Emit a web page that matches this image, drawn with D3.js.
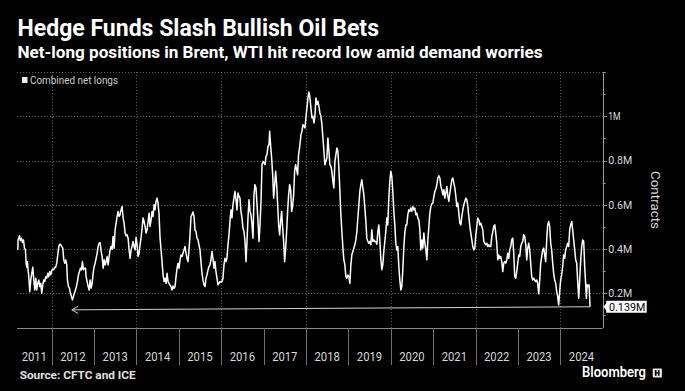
<!DOCTYPE html>
<html lang="en">
<head>
<meta charset="UTF-8">
<title>Hedge Funds Slash Bullish Oil Bets</title>
<script src="https://d3js.org/d3.v7.min.js"></script>
<style>
  body { margin: 0; background: #000; }
  svg { display: block; }
  text { font-family: "Liberation Sans Narrow", "Roboto", "Liberation Sans", sans-serif; }
</style>
</head>
<body>
<svg id="chart" width="685" height="391"></svg>
<script>
// Combined Brent + WTI net longs, millions of contracts. [decimal year, value]
const netLongs = [
  [2011.203,.396],[2011.210,.441],[2011.242,.460],[2011.265,.437],[2011.289,.449],[2011.313,.429],[2011.336,.441],[2011.360,.404],
  [2011.383,.396],[2011.399,.336],[2011.415,.318],[2011.430,.343],[2011.446,.306],[2011.462,.275],[2011.485,.207],[2011.509,.260],
  [2011.533,.290],[2011.556,.318],[2011.580,.260],[2011.603,.215],[2011.627,.268],[2011.650,.215],[2011.674,.245],[2011.698,.260],
  [2011.721,.230],[2011.745,.245],[2011.768,.200],[2011.792,.238],[2011.816,.260],[2011.839,.253],[2011.863,.275],[2011.886,.268],
  [2011.910,.290],[2011.933,.275],[2011.957,.298],[2011.981,.283],
  [2012.004,.303],[2012.028,.309],[2012.051,.306],[2012.075,.318],[2012.098,.318],[2012.122,.336],[2012.146,.374],[2012.169,.411],
  [2012.193,.422],[2012.216,.419],[2012.240,.411],[2012.263,.404],[2012.287,.351],[2012.311,.336],[2012.334,.351],[2012.358,.328],
  [2012.373,.260],[2012.397,.230],[2012.421,.223],[2012.444,.200],[2012.468,.185],[2012.491,.170],[2012.515,.185],[2012.538,.200],
  [2012.562,.215],[2012.586,.230],[2012.609,.253],[2012.633,.283],[2012.656,.298],[2012.680,.313],[2012.704,.306],[2012.727,.343],
  [2012.751,.306],[2012.774,.313],[2012.798,.313],[2012.813,.275],[2012.837,.253],[2012.861,.230],[2012.884,.215],[2012.908,.260],
  [2012.931,.223],[2012.955,.245],[2012.978,.290],
  [2013.002,.321],[2013.026,.336],[2013.049,.358],[2013.073,.381],[2013.096,.411],[2013.120,.426],[2013.143,.429],[2013.167,.389],
  [2013.191,.366],[2013.214,.313],[2013.238,.351],[2013.261,.328],[2013.285,.343],[2013.309,.366],[2013.332,.328],[2013.356,.366],
  [2013.379,.396],[2013.403,.411],[2013.426,.399],[2013.450,.457],[2013.473,.404],[2013.497,.487],[2013.521,.517],[2013.544,.547],
  [2013.568,.570],[2013.591,.547],[2013.615,.555],[2013.638,.577],[2013.662,.592],[2013.686,.540],[2013.709,.517],[2013.733,.472],
  [2013.756,.460],[2013.780,.464],[2013.804,.449],[2013.827,.396],[2013.851,.358],[2013.874,.396],[2013.898,.411],[2013.921,.434],
  [2013.945,.411],[2013.969,.396],[2013.992,.453],
  [2014.016,.419],[2014.039,.366],[2014.063,.381],[2014.086,.419],[2014.110,.453],[2014.134,.494],[2014.157,.540],[2014.181,.524],
  [2014.204,.502],[2014.228,.472],[2014.252,.487],[2014.275,.524],[2014.299,.562],[2014.322,.502],[2014.346,.532],[2014.369,.570],
  [2014.393,.547],[2014.417,.600],[2014.440,.577],[2014.464,.615],[2014.487,.630],[2014.511,.607],[2014.535,.555],[2014.558,.449],
  [2014.582,.396],[2014.605,.343],[2014.629,.283],[2014.653,.253],[2014.676,.268],[2014.700,.245],[2014.723,.290],[2014.747,.253],
  [2014.770,.245],[2014.794,.237],[2014.817,.230],[2014.841,.215],[2014.865,.233],[2014.888,.222],[2014.912,.230],[2014.935,.275],
  [2014.959,.313],[2014.983,.336],
  [2015.006,.313],[2015.030,.351],[2015.053,.373],[2015.077,.366],[2015.100,.381],[2015.124,.396],[2015.147,.411],[2015.171,.381],
  [2015.194,.358],[2015.218,.343],[2015.242,.396],[2015.265,.464],[2015.289,.547],[2015.312,.555],[2015.336,.567],[2015.360,.547],
  [2015.383,.487],[2015.407,.479],[2015.430,.449],[2015.454,.441],[2015.477,.419],[2015.501,.396],[2015.524,.343],[2015.548,.290],
  [2015.572,.260],[2015.595,.238],[2015.619,.230],[2015.642,.268],[2015.666,.283],[2015.690,.305],[2015.713,.321],[2015.737,.328],
  [2015.760,.351],[2015.784,.389],[2015.807,.358],[2015.831,.313],[2015.854,.343],[2015.878,.298],[2015.902,.268],[2015.925,.238],
  [2015.949,.245],[2015.972,.253],[2015.996,.250],
  [2016.020,.253],[2016.043,.268],[2016.067,.328],[2016.090,.358],[2016.114,.343],[2016.137,.358],[2016.161,.419],[2016.185,.464],
  [2016.208,.525],[2016.232,.577],[2016.255,.540],[2016.279,.600],[2016.302,.630],[2016.326,.660],[2016.350,.623],[2016.373,.577],
  [2016.397,.653],[2016.420,.638],[2016.444,.630],[2016.467,.570],[2016.491,.540],[2016.515,.494],[2016.538,.479],[2016.562,.434],
  [2016.585,.343],[2016.609,.434],[2016.632,.540],[2016.656,.623],[2016.680,.570],[2016.703,.555],[2016.727,.509],[2016.750,.449],
  [2016.774,.645],[2016.797,.691],[2016.821,.676],[2016.845,.600],[2016.868,.525],[2016.892,.434],[2016.915,.509],[2016.939,.615],
  [2016.962,.781],[2016.986,.796],
  [2017.009,.789],[2017.033,.781],[2017.057,.819],[2017.080,.827],[2017.104,.864],[2017.127,.872],[2017.143,.932],[2017.167,.864],
  [2017.190,.811],[2017.214,.736],[2017.237,.630],[2017.261,.691],[2017.285,.751],[2017.308,.691],[2017.332,.600],[2017.355,.509],
  [2017.379,.464],[2017.402,.525],[2017.426,.570],[2017.450,.494],[2017.473,.434],[2017.497,.343],[2017.520,.404],[2017.544,.479],
  [2017.567,.570],[2017.591,.645],[2017.615,.691],[2017.638,.668],[2017.662,.570],[2017.685,.593],[2017.709,.645],[2017.732,.751],
  [2017.756,.781],[2017.779,.759],[2017.803,.736],[2017.826,.827],[2017.858,.872],[2017.882,.917],[2017.905,.932],[2017.929,.962],
  [2017.952,.955],[2017.976,.947],[2017.999,.993],
  [2018.023,1.038],[2018.047,1.083],[2018.070,1.110],[2018.094,1.083],[2018.117,1.038],[2018.141,.993],[2018.164,1.000],[2018.188,.970],
  [2018.212,1.000],[2018.235,1.083],[2018.259,1.053],[2018.282,1.068],[2018.306,1.045],[2018.329,1.015],[2018.353,1.000],[2018.377,.962],
  [2018.400,.902],[2018.424,.842],[2018.447,.781],[2018.471,.796],[2018.494,.811],[2018.518,.902],[2018.542,.842],[2018.565,.781],
  [2018.589,.774],[2018.612,.751],[2018.636,.706],[2018.659,.676],[2018.683,.796],[2018.707,.827],[2018.730,.857],[2018.754,.842],
  [2018.777,.766],[2018.801,.660],[2018.824,.555],[2018.848,.479],[2018.872,.404],[2018.895,.351],[2018.919,.328],[2018.942,.275],
  [2018.966,.268],[2018.989,.283],
  [2019.013,.275],[2019.037,.245],[2019.060,.328],[2019.084,.374],[2019.107,.389],[2019.131,.404],[2019.154,.419],[2019.178,.441],
  [2019.202,.479],[2019.225,.540],[2019.249,.600],[2019.272,.660],[2019.296,.691],[2019.319,.713],[2019.343,.676],[2019.367,.645],
  [2019.390,.585],[2019.414,.525],[2019.437,.449],[2019.461,.434],[2019.484,.426],[2019.508,.434],[2019.532,.419],[2019.555,.487],
  [2019.579,.434],[2019.602,.441],[2019.626,.434],[2019.649,.434],[2019.673,.422],[2019.697,.479],[2019.720,.509],[2019.744,.441],
  [2019.767,.358],[2019.791,.306],[2019.814,.328],[2019.838,.389],[2019.862,.434],[2019.885,.479],[2019.909,.540],[2019.932,.509],
  [2019.956,.630],[2019.980,.706],
  [2020.003,.751],[2020.027,.728],[2020.050,.660],[2020.074,.570],[2020.097,.509],[2020.121,.426],[2020.145,.396],[2020.168,.411],
  [2020.192,.321],[2020.215,.260],[2020.239,.215],[2020.262,.230],[2020.286,.306],[2020.310,.411],[2020.333,.472],[2020.357,.509],
  [2020.380,.509],[2020.404,.555],[2020.427,.577],[2020.451,.570],[2020.474,.585],[2020.498,.570],[2020.522,.592],[2020.545,.577],
  [2020.569,.585],[2020.592,.555],[2020.616,.562],[2020.640,.540],[2020.663,.532],[2020.687,.487],[2020.710,.396],[2020.734,.441],
  [2020.757,.404],[2020.781,.472],[2020.805,.426],[2020.828,.396],[2020.852,.351],[2020.875,.441],[2020.899,.502],[2020.922,.562],
  [2020.946,.592],[2020.970,.605],[2020.993,.607],
  [2021.017,.638],[2021.040,.660],[2021.064,.671],[2021.088,.691],[2021.111,.721],[2021.135,.731],[2021.158,.721],[2021.182,.683],
  [2021.205,.668],[2021.229,.645],[2021.253,.668],[2021.276,.630],[2021.300,.653],[2021.323,.683],[2021.347,.638],[2021.371,.615],
  [2021.394,.653],[2021.418,.683],[2021.441,.713],[2021.465,.721],[2021.488,.698],[2021.512,.676],[2021.536,.638],[2021.559,.592],
  [2021.583,.608],[2021.606,.562],[2021.630,.517],[2021.654,.509],[2021.677,.547],[2021.701,.577],[2021.724,.600],[2021.748,.615],
  [2021.771,.630],[2021.795,.623],[2021.819,.592],[2021.842,.547],[2021.866,.502],[2021.889,.472],[2021.913,.441],[2021.936,.411],
  [2021.960,.396],[2021.984,.404],
  [2022.007,.464],[2022.031,.502],[2022.054,.540],[2022.078,.532],[2022.101,.509],[2022.125,.517],[2022.149,.502],[2022.172,.487],
  [2022.196,.434],[2022.219,.426],[2022.243,.419],[2022.266,.426],[2022.290,.411],[2022.314,.419],[2022.337,.411],[2022.361,.411],
  [2022.384,.456],[2022.408,.479],[2022.431,.502],[2022.455,.509],[2022.478,.472],[2022.502,.426],[2022.525,.351],[2022.549,.373],
  [2022.573,.358],[2022.596,.366],[2022.620,.343],[2022.643,.298],[2022.667,.336],[2022.690,.343],[2022.714,.336],[2022.738,.351],
  [2022.761,.381],[2022.785,.358],[2022.808,.396],[2022.832,.411],[2022.856,.441],[2022.879,.449],[2022.903,.381],[2022.926,.275],
  [2022.950,.268],[2022.973,.298],[2022.997,.336],
  [2023.021,.373],[2023.044,.366],[2023.068,.411],[2023.091,.426],[2023.115,.434],[2023.138,.464],[2023.162,.456],[2023.186,.419],
  [2023.209,.351],[2023.233,.404],[2023.256,.426],[2023.280,.396],[2023.303,.336],[2023.327,.275],[2023.351,.260],[2023.374,.268],
  [2023.398,.260],[2023.421,.253],[2023.445,.260],[2023.468,.245],[2023.492,.197],[2023.516,.260],[2023.539,.336],[2023.563,.366],
  [2023.586,.396],[2023.610,.404],[2023.633,.373],[2023.657,.343],[2023.681,.441],[2023.704,.509],[2023.728,.524],[2023.751,.502],
  [2023.775,.426],[2023.798,.396],[2023.822,.336],[2023.845,.290],[2023.869,.260],[2023.893,.245],[2023.916,.207],[2023.940,.185],
  [2023.963,.147],[2023.987,.207],
  [2024.010,.260],[2024.034,.283],[2024.058,.321],[2024.081,.373],[2024.105,.358],[2024.128,.396],[2024.152,.411],[2024.175,.426],
  [2024.199,.411],[2024.223,.487],[2024.246,.509],[2024.270,.524],[2024.293,.487],[2024.317,.441],[2024.341,.396],[2024.364,.351],
  [2024.388,.336],[2024.411,.253],[2024.435,.177],[2024.458,.260],[2024.482,.351],[2024.506,.411],[2024.529,.441],[2024.553,.434],
  [2024.576,.321],[2024.600,.238],[2024.616,.177],[2024.632,.238],[2024.655,.230],[2024.679,.238],[2024.702,.139]
];

const yearLabels = [2011, 2012, 2013, 2014, 2015, 2016, 2017, 2018, 2019, 2020, 2021, 2022, 2023, 2024];
const gridYears = [2012, 2014, 2016, 2018, 2020, 2022, 2024];
const yLabelTicks = [0.2, 0.4, 0.6, 0.8, 1.0];
const yGridTicks = [0.2, 0.4, 0.6, 0.8, 1.0, 1.2];
const yMinorTicks = [0.1, 0.2, 0.3, 0.4, 0.5, 0.6, 0.7, 0.8, 0.9, 1.0, 1.1, 1.2];
const lastLabel = "0.139M";
// arrow from latest reading back to the 2012 low
const arrowStart = [2024.702, 0.139];
const arrowEnd = [2012.476, 0.125];

// decimal year -> Date
function toDate(dy) {
  const yr = Math.floor(dy);
  const s = new Date(yr, 0, 1), e = new Date(yr + 1, 0, 1);
  return new Date(+s + (dy - yr) * (e - s));
}

function fit(sel, w) {
  sel.attr("textLength", w).attr("lengthAdjust", "spacingAndGlyphs");
}

const svg = d3.select("#chart");
const W = 685, H = 391;
const plotL = 17, plotR = 602.7, plotT = 72, plotB = 328;

svg.append("rect").attr("width", W).attr("height", H).attr("fill", "#000");

const x = d3.scaleTime()
  .domain([new Date(2011, 2, 9), new Date(2025, 0, 1)])
  .range([plotL, plotR]);
const y = d3.scaleLinear()
  .domain([0.043, 1.2])
  .range([plotB, plotT]);

const px = v => Math.round(v) + 0.5;

// gridlines
const grid = svg.append("g");
grid.selectAll("line.h").data(yGridTicks).join("line")
  .attr("x1", plotL).attr("x2", plotR)
  .attr("y1", d => px(y(d))).attr("y2", d => px(y(d)))
  .attr("stroke", "#5c5c5c").attr("stroke-dasharray", "1,2");
grid.selectAll("line.v").data(gridYears).join("line")
  .attr("x1", d => px(x(new Date(d, 0, 1)))).attr("x2", d => px(x(new Date(d, 0, 1))))
  .attr("y1", plotT).attr("y2", plotB)
  .attr("stroke", "#5c5c5c").attr("stroke-dasharray", "1,2");

// bottom axis line + year separators
svg.append("line")
  .attr("x1", plotL).attr("x2", plotR)
  .attr("y1", px(plotB)).attr("y2", px(plotB))
  .attr("stroke", "#8a8a8a");
svg.selectAll("line.sep").data(yearLabels.slice(1)).join("line")
  .attr("x1", d => px(x(new Date(d, 0, 1)))).attr("x2", d => px(x(new Date(d, 0, 1))))
  .attr("y1", plotB).attr("y2", 365)
  .attr("stroke", "#6e6e6e");

svg.selectAll("text.year").data(yearLabels).join("text")
  .attr("x", d => {
    const a = Math.max(x(new Date(d, 0, 1)), plotL);
    const b = Math.min(x(new Date(d + 1, 0, 1)), plotR);
    return (a + b) / 2;
  })
  .attr("y", 361)
  .attr("text-anchor", "middle")
  .attr("fill", "#d8d8d8")
  .style("font-size", "12.5px")
  .text(d => d)
  .call(fit, 25.3);

// right axis
svg.append("line")
  .attr("x1", px(plotR)).attr("x2", px(plotR))
  .attr("y1", plotT).attr("y2", plotB)
  .attr("stroke", "#9a9a9a");
svg.selectAll("line.minor").data(yMinorTicks).join("line")
  .attr("x1", plotR).attr("x2", d => plotR + (yLabelTicks.includes(d) ? 4 : 3))
  .attr("y1", d => px(y(d))).attr("y2", d => px(y(d)))
  .attr("stroke", "#9a9a9a");
const yLab = svg.selectAll("text.ylab").data(yLabelTicks).join("text")
  .attr("x", plotR + 5.6)
  .attr("y", d => y(d))
  .attr("dy", "0.36em")
  .attr("fill", "#d8d8d8")
  .style("font-size", "11px")
  .text(d => (d === 1 ? "1" : d3.format(".1f")(d)) + "M");
yLab.each(function (d) {
  d3.select(this).call(fit, d === 1 ? 12.3 : 24);
});

svg.append("text")
  .attr("transform", "translate(651,200) rotate(90)")
  .attr("text-anchor", "middle")
  .attr("fill", "#d8d8d8")
  .style("font-size", "13px")
  .text("Contracts")
  .call(fit, 58);

// the series
const line = d3.line()
  .x(d => x(toDate(d[0])))
  .y(d => y(d[1]));
svg.append("path")
  .datum(netLongs)
  .attr("d", line)
  .attr("fill", "none")
  .attr("stroke", "#fff")
  .attr("stroke-width", 1.5)
  .attr("stroke-linejoin", "round");

// arrow back to 2012 low
const ax0 = x(toDate(arrowStart[0])), ay0 = y(arrowStart[1]);
const ax1 = x(toDate(arrowEnd[0])), ay1 = y(arrowEnd[1]);
svg.append("line")
  .attr("x1", ax0).attr("y1", ay0).attr("x2", ax1).attr("y2", ay1)
  .attr("stroke", "#d0d0d0").attr("stroke-width", 1);
svg.append("polyline")
  .attr("points", [[ax1 + 6.5, ay1 - 3.6], [ax1, ay1], [ax1 + 6.5, ay1 + 3.6]].join(" "))
  .attr("fill", "none").attr("stroke", "#d0d0d0").attr("stroke-width", 1);

// last value tag
const ly = y(netLongs[netLongs.length - 1][1]);
svg.append("path")
  .attr("d", `M${plotR + 3.5},${ly - 6} L${plotR + 44},${ly - 6} L${plotR + 44},${ly + 6} L${plotR + 3.5},${ly + 6} L${plotR + 3.5},${ly + 3.5} L${plotR + 0.8},${ly} L${plotR + 3.5},${ly - 3.5} Z`)
  .attr("fill", "#fff");
svg.append("text")
  .attr("x", plotR + 6.3).attr("y", ly).attr("dy", "0.36em")
  .attr("fill", "#000")
  .style("font-size", "11px")
  .text(lastLabel)
  .call(fit, 36.3);

// titles
svg.append("text")
  .attr("x", 17.5).attr("y", 35.8)
  .attr("fill", "#fff")
  .style("font-size", "24px").style("font-weight", "bold")
  .text("Hedge Funds Slash Bullish Oil Bets")
  .call(fit, 361.5);
svg.append("text")
  .attr("x", 17.5).attr("y", 58)
  .attr("fill", "#fff")
  .style("font-size", "17px").style("font-weight", "bold")
  .text("Net-long positions in Brent, WTI hit record low amid demand worries")
  .call(fit, 525);

// legend
svg.append("rect")
  .attr("x", 22).attr("y", 77).attr("width", 5.5).attr("height", 6)
  .attr("fill", "#eee");
svg.append("text")
  .attr("x", 30).attr("y", 84.3)
  .attr("fill", "#cfcfcf")
  .style("font-size", "10px")
  .text("Combined net longs")
  .call(fit, 88);

// footer
svg.append("text")
  .attr("x", 19.7).attr("y", 378.8)
  .attr("fill", "#e0e0e0")
  .style("font-size", "11.5px").style("font-weight", "bold")
  .text("Source: CFTC and ICE")
  .call(fit, 116);
svg.append("text")
  .attr("x", 582).attr("y", 376.8)
  .attr("fill", "#fff")
  .style("font-size", "14px").style("font-weight", "600")
  .text("Bloomberg")
  .call(fit, 64);
const logo = svg.append("g").attr("transform", "translate(652.7,368.4)");
logo.append("rect").attr("width", 9.2).attr("height", 9).attr("rx", 1).attr("fill", "#e8e8e8");
logo.append("rect").attr("x", 2.2).attr("y", 1.6).attr("width", 1.6).attr("height", 5.8).attr("fill", "#000");
logo.append("rect").attr("x", 5.2).attr("y", 1.6).attr("width", 1.6).attr("height", 5.8).attr("fill", "#000");
logo.append("rect").attr("x", 2.2).attr("y", 4).attr("width", 4.6).attr("height", 1.2).attr("fill", "#000");
</script>
</body>
</html>
